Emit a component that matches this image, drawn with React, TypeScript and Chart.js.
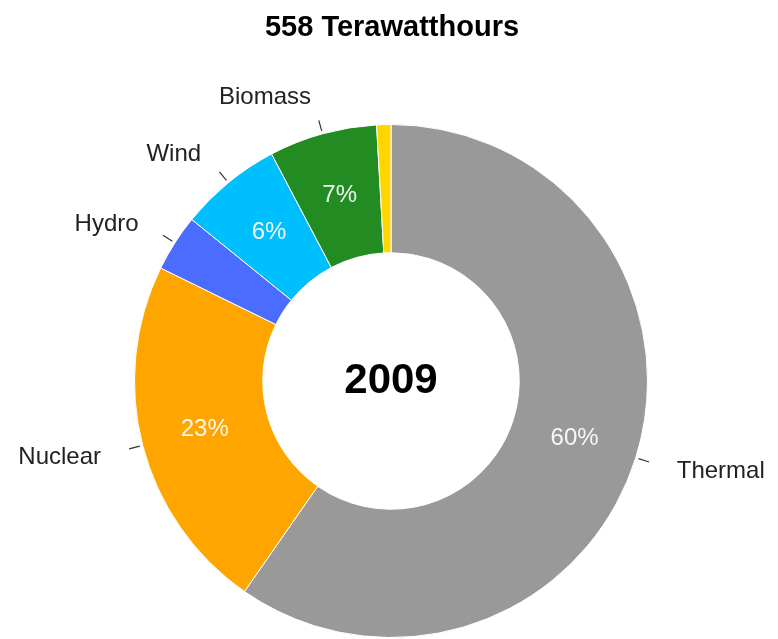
import React, { useEffect, useRef } from "react";
import { Chart, registerables } from "chart.js";

Chart.register(...registerables);

const title = "558 Terawatthours";
const centerText = "2009";
const categories = ["Thermal", "Nuclear", "Hydro", "Wind", "Biomass", "Solar"];
const values = [333, 126, 20, 36, 38, 5];
const colors = ["#999999", "#FFA500", "#4A6CFF", "#00BFFF", "#228B22", "#FFD700"];

const FONT = "'Liberation Sans', Arial, Helvetica, sans-serif";

const labelPlugin = {
  id: "labelPlugin",
  afterDraw(chart: any) {
    const ctx = chart.ctx;
    const meta = chart.getDatasetMeta(0);
    const total = values.reduce((a, b) => a + b, 0);
    ctx.save();
    // title
    ctx.fillStyle = "#000";
    ctx.font = `bold 29px ${FONT}`;
    ctx.textAlign = "center";
    ctx.textBaseline = "middle";
    ctx.fillText(title, 392, 28);

    meta.data.forEach((arc: any, i: number) => {
      const p = arc.getProps(["x", "y", "startAngle", "endAngle", "innerRadius", "outerRadius"], true);
      const mid = (p.startAngle + p.endAngle) / 2;
      const cos = Math.cos(mid);
      const sin = Math.sin(mid);
      const frac = values[i] / total;
      if (frac >= 0.05) {
        const r = (p.innerRadius + p.outerRadius) / 2;
        ctx.fillStyle = "rgba(255,255,255,0.92)";
        ctx.font = `24px ${FONT}`;
        ctx.textAlign = "center";
        ctx.textBaseline = "middle";
        ctx.fillText(Math.round(frac * 100) + "%", p.x + cos * r, p.y + sin * r);
      }
      if (frac >= 0.02) {
        const r1 = p.outerRadius + 3;
        const r2 = p.outerRadius + 14;
        ctx.strokeStyle = "#333";
        ctx.lineWidth = 1.2;
        ctx.beginPath();
        ctx.moveTo(p.x + cos * r1, p.y + sin * r1);
        ctx.lineTo(p.x + cos * r2, p.y + sin * r2);
        ctx.stroke();
        const rt = p.outerRadius + 43;
        ctx.fillStyle = "#222";
        ctx.font = `24px ${FONT}`;
        ctx.textAlign = cos >= 0 ? "left" : "right";
        ctx.textBaseline = "middle";
        const dy = sin < 0 ? 5 : 1;
        ctx.fillText(categories[i], p.x + cos * rt, p.y + sin * rt + dy);
      }
    });

    ctx.fillStyle = "#000";
    ctx.font = `bold 42px ${FONT}`;
    ctx.textAlign = "center";
    ctx.textBaseline = "middle";
    const a0 = meta.data[0];
    if (a0) ctx.fillText(centerText, a0.x, a0.y);
    ctx.restore();
  },
};

export default function App() {
  const ref = useRef<HTMLCanvasElement>(null);
  useEffect(() => {
    if (!ref.current) return;
    const chart = new Chart(ref.current, {
      type: "doughnut",
      data: {
        labels: categories,
        datasets: [
          {
            data: values,
            backgroundColor: colors,
            borderColor: "#ffffff",
            borderWidth: 1,
          },
        ],
      },
      options: {
        responsive: false,
        animation: false,
        cutout: "50%",
        layout: { padding: { top: 124, bottom: 1, left: 134, right: 130 } },
        plugins: {
          legend: { display: false },
          tooltip: { enabled: false },
          title: { display: false },
        },
      },
      plugins: [labelPlugin],
    });
    return () => chart.destroy();
  }, []);
  return (
    <div style={{ position: "absolute", left: 0, top: 0, width: 778, height: 639, background: "#fff" }}>
      <canvas ref={ref} width={778} height={639} style={{ width: 778, height: 639 }} />
    </div>
  );
}
